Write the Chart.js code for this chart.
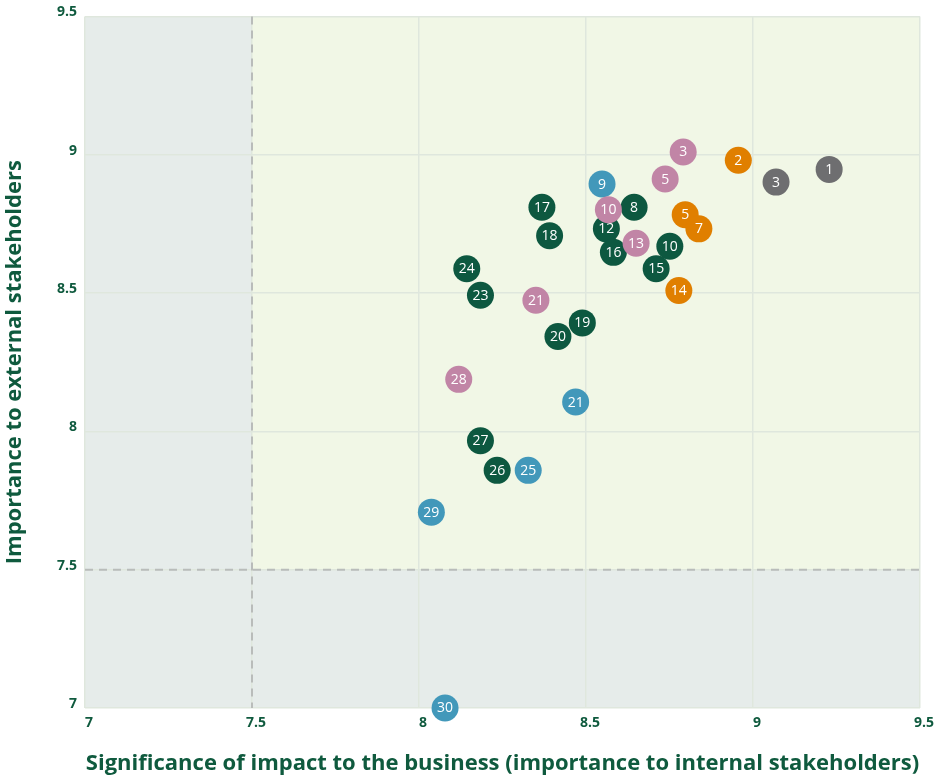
<!DOCTYPE html>
<html><head><meta charset="utf-8">
<script src="https://cdn.jsdelivr.net/npm/chart.js@4.4.1/dist/chart.umd.min.js"></script>
<style>html,body{margin:0;padding:0;background:#fff}#wrap{width:938px;height:780px;position:relative}</style>
</head><body><div id="wrap"><canvas id="c"></canvas></div>
<script>
// Data
const greenLabels = ['17','8','12','18','10','16','15','24','23','19','20','27','26'];
const greenX = [8.368, 8.644, 8.561, 8.391, 8.751, 8.582, 8.710, 8.143, 8.184, 8.489, 8.416, 8.184, 8.234];
const greenY = [8.810, 8.810, 8.732, 8.707, 8.669, 8.647, 8.588, 8.588, 8.492, 8.392, 8.343, 7.966, 7.859];

const pinkLabels = ['3','5','10','13','21','28'];
const pinkX = [8.791, 8.737, 8.567, 8.650, 8.350, 8.119];
const pinkY = [9.010, 8.912, 8.801, 8.680, 8.474, 8.188];

const blueLabels = ['9','21','25','29','30'];
const blueX = [8.548, 8.469, 8.327, 8.037, 8.078];
const blueY = [8.894, 8.106, 7.859, 7.708, 7.000];

const orangeLabels = ['2','5','7','14'];
const orangeX = [8.956, 8.797, 8.838, 8.778];
const orangeY = [8.980, 8.783, 8.732, 8.509];

const greyLabels = ['1','3'];
const greyX = [9.228, 9.069];
const greyY = [8.947, 8.901];

const xTicks = [7, 7.5, 8, 8.5, 9, 9.5];
const yTicks = [7, 7.5, 8, 8.5, 9, 9.5];
const threshold = 7.5;

const FONT = '"Open Sans", "Noto Sans", sans-serif';
const TEXT = '#0f5a3e';

function pts(xs, ys, ls) { return xs.map((x, i) => ({x: x, y: ys[i], label: ls[i]})); }
function ds(name, xs, ys, ls, color, order) {
  return {label: name, data: pts(xs, ys, ls), backgroundColor: color, borderWidth: 0,
    pointRadius: 13.5, pointHoverRadius: 13.5, order: order, clip: false};
}

const quadrants = {
  id: 'quadrants',
  beforeDraw(chart) {
    const {ctx, chartArea: a, scales: {x, y}} = chart;
    const tx = x.getPixelForValue(threshold), ty = y.getPixelForValue(threshold);
    ctx.save();
    ctx.fillStyle = '#e6ecea';
    ctx.fillRect(a.left, a.top, a.right - a.left, a.bottom - a.top);
    ctx.fillStyle = '#f1f7e6';
    ctx.fillRect(tx, a.top, a.right - tx, ty - a.top);
    ctx.restore();
  },
  beforeDatasetsDraw(chart) {
    const {ctx, chartArea: a, scales: {x, y}} = chart;
    const tx = x.getPixelForValue(threshold), ty = y.getPixelForValue(threshold);
    ctx.save();
    ctx.strokeStyle = '#b9bcba';
    ctx.lineWidth = 2;
    ctx.setLineDash([8, 6]);
    ctx.beginPath();
    ctx.moveTo(tx, a.top); ctx.lineTo(tx, a.bottom);
    ctx.moveTo(a.left, ty); ctx.lineTo(a.right, ty);
    ctx.stroke();
    ctx.restore();
  },
  afterDatasetDraw(chart, args) {
    const {ctx} = chart;
    const meta = args.meta;
    const data = chart.data.datasets[args.index].data;
    ctx.save();
    ctx.fillStyle = '#ffffff';
    ctx.font = '500 14px ' + FONT;
    ctx.textAlign = 'center';
    ctx.textBaseline = 'middle';
    meta.data.forEach((el, i) => ctx.fillText(data[i].label, el.x, el.y + 0.5));
    ctx.restore();
  }
};

new Chart(document.getElementById('c'), {
  type: 'scatter',
  data: {datasets: [
    ds('green', greenX, greenY, greenLabels, '#0d5840', 5),
    ds('blue', blueX, blueY, blueLabels, '#4298ba', 4),
    ds('pink', pinkX, pinkY, pinkLabels, '#c185a6', 3),
    ds('orange', orangeX, orangeY, orangeLabels, '#e07f00', 2),
    ds('grey', greyX, greyY, greyLabels, '#6e6e70', 1)
  ]},
  options: {
    responsive: true, maintainAspectRatio: false, animation: false,
    layout: {padding: {top: 15, right: 18, left: 0, bottom: 0}},
    plugins: {legend: {display: false}, tooltip: {enabled: false}},
    scales: {
      x: {
        type: 'linear', min: 7, max: 9.5,
        afterBuildTicks(s) { s.ticks = xTicks.map(v => ({value: v})); },
        afterFit(s) { s.height = 72; },
        grid: {color: '#dfe7dd', lineWidth: 1.5, drawTicks: false},
        border: {display: false},
        ticks: {color: TEXT, font: {family: FONT, size: 14, weight: 'bold'}, padding: 7, labelOffset: 4,
          callback: v => String(v)},
        title: {display: true, text: 'Significance of impact to the business (importance to internal stakeholders)',
          color: TEXT, font: {family: FONT, size: 22, weight: 'bold'}, padding: {top: 4, bottom: 3}}
      },
      y: {
        type: 'linear', min: 7, max: 9.5,
        afterBuildTicks(s) { s.ticks = yTicks.map(v => ({value: v})); },
        afterFit(s) { s.width = 85; },
        grid: {color: '#dfe7dd', lineWidth: 1.5, drawTicks: false},
        border: {display: false},
        ticks: {color: TEXT, font: {family: FONT, size: 14, weight: 'bold'}, padding: 8, labelOffset: -4,
          callback: v => String(v)},
        title: {display: true, text: 'Importance to external stakeholders',
          color: TEXT, font: {family: FONT, size: 22, weight: 'bold'}, padding: {top: 2, bottom: 4}}
      }
    }
  },
  plugins: [quadrants]
});
</script>
</body></html>
